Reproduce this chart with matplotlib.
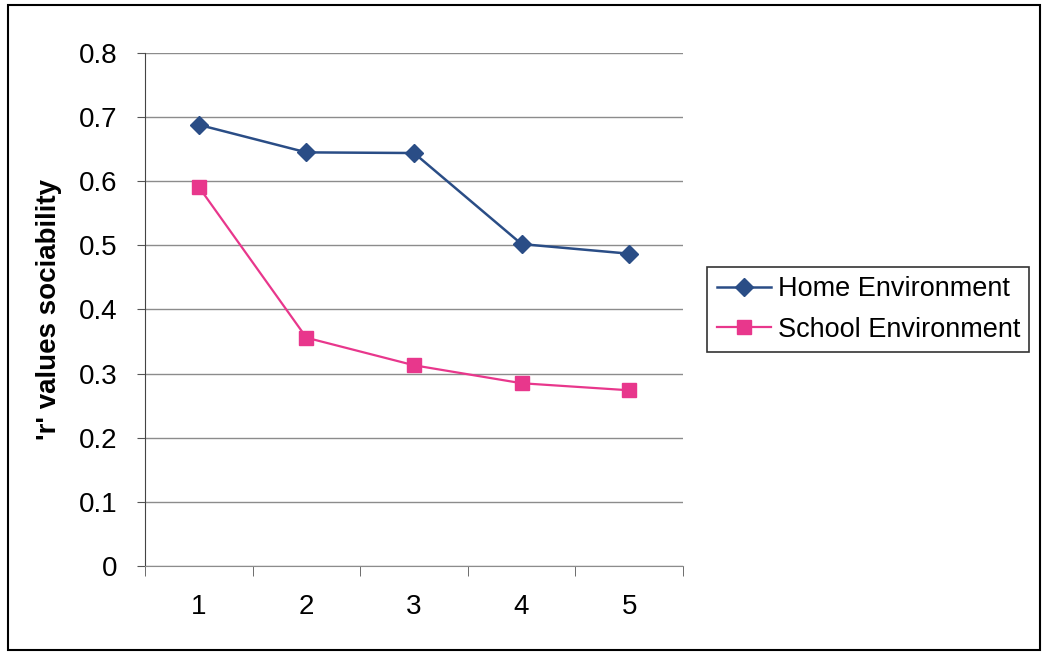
import numpy as np
import matplotlib.pyplot as plt
from matplotlib.patches import Rectangle

plt.rcParams['font.family'] = ['Liberation Sans', 'DejaVu Sans']

groups = [1, 2, 3, 4, 5]
home = [0.688, 0.645, 0.644, 0.502, 0.487]
school = [0.591, 0.356, 0.313, 0.285, 0.274]
ylab = "'r' values sociability"

fig = plt.figure(figsize=(10.48, 6.55), dpi=100)
ax = fig.add_axes([0.1384, 0.1359, 0.5133, 0.7832])

ax.plot(groups, home, color='#2a4d86', lw=1.8, marker='D', ms=9,
        label='Home Environment', zorder=3)
ax.plot(groups, school, color='#e8378c', lw=1.6, marker='s', ms=10,
        label='School Environment', zorder=3)

ax.set_xlim(0.5, 5.5)
ax.set_ylim(0, 0.8)
ax.set_yticks(np.arange(0, 0.81, 0.1))
ax.set_yticklabels(['0'] + ['%.1f' % v for v in np.arange(0.1, 0.81, 0.1)])
ax.yaxis.grid(True, color='#8c8c8c', lw=1)
ax.set_axisbelow(True)

# category labels sit between tick marks
ax.set_xticks(groups)
ax.set_xticklabels([str(g) for g in groups])
ax.set_xticks(np.arange(0.5, 5.6, 1), minor=True)
ax.tick_params(axis='x', which='major', length=0, pad=20, labelsize=20)
ax.tick_params(axis='x', which='minor', length=7, direction='out', color='#555555')
ax.tick_params(axis='y', length=6, direction='out', labelsize=20, pad=14, color='#555555')

for s in ['top', 'right']:
    ax.spines[s].set_visible(False)
ax.spines['left'].set_color('#444444')
ax.spines['bottom'].set_color('#8c8c8c')

ax.set_ylabel(ylab, fontsize=20, fontweight='bold', labelpad=12)

leg = ax.legend(loc='center left', bbox_to_anchor=(1.045, 0.5), fontsize=19.5,
                frameon=True, fancybox=False, edgecolor='black',
                handlelength=2.0, handletextpad=0.25, borderpad=0.35,
                labelspacing=0.55, borderaxespad=0)
leg.get_frame().set_linewidth(1.2)

# outer chart border
fig.patches.append(Rectangle((0.008, 0.008), 0.984, 0.984, transform=fig.transFigure,
                             fill=False, edgecolor='black', lw=1.5))

fig.savefig('out.png', dpi=100)
